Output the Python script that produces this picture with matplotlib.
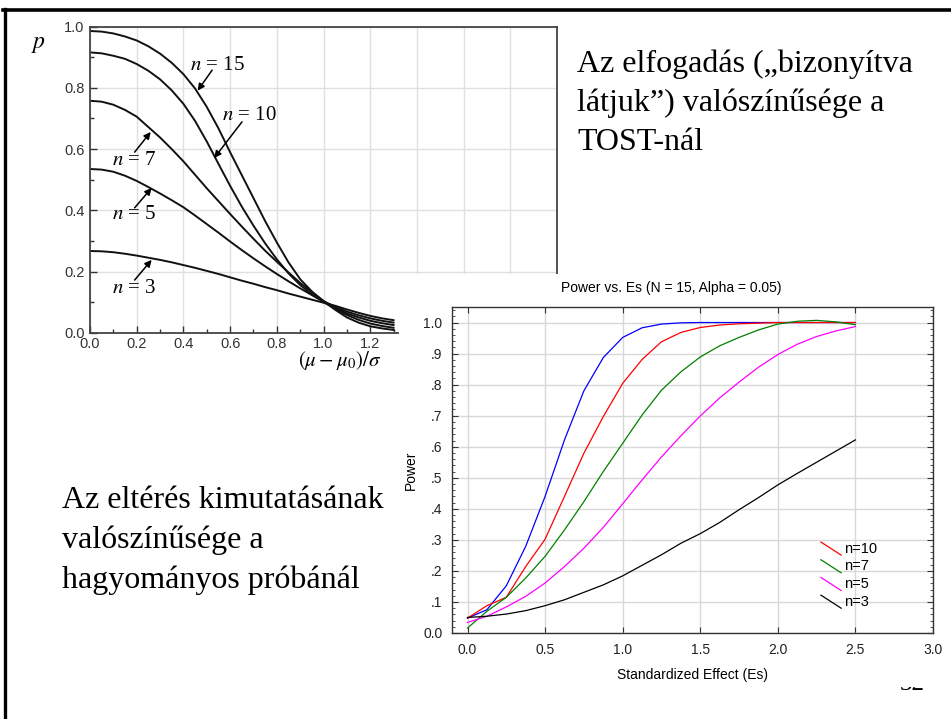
import matplotlib
matplotlib.use('Agg')
import matplotlib.pyplot as plt
from matplotlib.lines import Line2D
from matplotlib.patches import Rectangle
from matplotlib.ticker import MultipleLocator

plt.rcParams['mathtext.fontset'] = 'stix'
plt.rcParams['font.family'] = ['Liberation Sans', 'DejaVu Sans']

# --- left chart: probability of acceptance with TOST ---
p_x = [0.0, 0.05, 0.1, 0.15, 0.2, 0.25, 0.3, 0.35, 0.4, 0.45, 0.5, 0.55, 0.6, 0.65,
       0.7, 0.75, 0.8, 0.85, 0.9, 0.95, 1.0, 1.05, 1.1, 1.15, 1.2, 1.25, 1.3]
p_n15 = [0.986, 0.984, 0.978, 0.968, 0.955, 0.936, 0.912, 0.882, 0.845, 0.798, 0.738,
         0.668, 0.590, 0.515, 0.440, 0.365, 0.295, 0.230, 0.175, 0.135, 0.103, 0.075,
         0.050, 0.033, 0.021, 0.014, 0.009]
p_n10 = [0.916, 0.913, 0.905, 0.895, 0.878, 0.856, 0.828, 0.792, 0.748, 0.692, 0.625,
         0.552, 0.480, 0.412, 0.350, 0.292, 0.240, 0.194, 0.156, 0.125, 0.100, 0.079,
         0.058, 0.042, 0.030, 0.022, 0.016]
p_n7 = [0.758, 0.755, 0.745, 0.728, 0.706, 0.672, 0.638, 0.600, 0.560, 0.516, 0.472,
        0.430, 0.388, 0.347, 0.307, 0.268, 0.232, 0.197, 0.163, 0.132, 0.104, 0.082,
        0.063, 0.050, 0.039, 0.031, 0.025]
p_n5 = [0.535, 0.533, 0.526, 0.513, 0.496, 0.476, 0.455, 0.433, 0.410, 0.383, 0.355,
        0.327, 0.298, 0.270, 0.243, 0.217, 0.192, 0.168, 0.145, 0.123, 0.102, 0.085,
        0.069, 0.057, 0.047, 0.039, 0.033]
p_n3 = [0.267, 0.266, 0.263, 0.258, 0.252, 0.245, 0.238, 0.230, 0.221, 0.212, 0.202,
        0.192, 0.181, 0.170, 0.160, 0.149, 0.139, 0.128, 0.118, 0.108, 0.098, 0.088,
        0.076, 0.065, 0.055, 0.047, 0.041]
p_series = [p_n15, p_n10, p_n7, p_n5, p_n3]
p_names = ['15', '10', '7', '5', '3']
# label centre, arrow tail, arrow tip (data units)
p_label_pos = [(0.545, 0.874), (0.681, 0.711), (0.191, 0.564), (0.191, 0.385), (0.191, 0.146)]
p_arrow_tail = [(0.523, 0.858), (0.651, 0.689), (0.191, 0.590), (0.191, 0.408), (0.191, 0.172)]
p_arrow_tip = [(0.461, 0.791), (0.532, 0.571), (0.260, 0.656), (0.264, 0.473), (0.264, 0.238)]

# --- right chart: power of the classical test ---
es = [0.0, 0.125, 0.25, 0.375, 0.5, 0.625, 0.75, 0.875, 1.0, 1.125, 1.25, 1.375,
      1.5, 1.625, 1.75, 1.875, 2.0, 2.125, 2.25, 2.375, 2.5]
pow_n15 = [0.048, 0.075, 0.152, 0.279, 0.440, 0.622, 0.780, 0.887, 0.952, 0.983, 0.995,
           0.999, 1.0, 1.0, 1.0, 1.0, 1.0, 1.0, 1.0, 1.0, 1.0]
pow_n10 = [0.048, 0.088, 0.115, 0.214, 0.302, 0.440, 0.579, 0.697, 0.804, 0.881, 0.938,
           0.968, 0.984, 0.992, 0.996, 0.998, 1.0, 1.0, 1.0, 1.0, 1.0]
pow_n7 = [0.016, 0.070, 0.115, 0.177, 0.247, 0.332, 0.423, 0.520, 0.611, 0.702, 0.782,
          0.841, 0.889, 0.925, 0.952, 0.976, 0.995, 1.004, 1.007, 1.002, 0.993]
pow_n5 = [0.034, 0.054, 0.084, 0.118, 0.161, 0.214, 0.273, 0.340, 0.416, 0.493, 0.567,
          0.635, 0.699, 0.757, 0.808, 0.856, 0.897, 0.930, 0.955, 0.973, 0.987]
pow_n3 = [0.050, 0.054, 0.061, 0.072, 0.088, 0.107, 0.131, 0.155, 0.184, 0.218, 0.252,
          0.289, 0.320, 0.356, 0.397, 0.436, 0.477, 0.514, 0.550, 0.586, 0.622]
pow_series = [pow_n15, pow_n10, pow_n7, pow_n5, pow_n3]
pow_colors = ['#0000ff', '#ff0000', '#008000', '#ff00ff', '#000000']
legend_names = ['n=10', 'n=7', 'n=5', 'n=3']
legend_colors = ['#ff0000', '#008000', '#ff00ff', '#000000']
y_ticklabels = ['0.0', '.1', '.2', '.3', '.4', '.5', '.6', '.7', '.8', '.9', '1.0']

top_lines = ['Az elfogadás („bizonyítva', 'látjuk”) valószínűsége a', 'TOST-nál']
bottom_lines = ['Az eltérés kimutatásának', 'valószínűsége a', 'hagyományos próbánál']

W, H = 951, 719
fig = plt.figure(figsize=(W / 100, H / 100), dpi=100)


def fx(px):
    return px / W


def fy(py):
    return 1 - py / H


serif = ['Liberation Serif', 'DejaVu Serif']

# slide border
fig.add_artist(Line2D([fx(3), 1], [fy(9.5), fy(9.5)], color='black', lw=2.6, zorder=10))
fig.add_artist(Line2D([fx(4.5), fx(4.5)], [fy(8.5), 0], color='black', lw=2.4, zorder=10))

# left axes
ax1 = fig.add_axes([fx(90), fy(332.7), fx(557) - fx(90), fy(26.7) - fy(332.7)], zorder=1)
for ys in p_series:
    ax1.plot(p_x, ys, color='#111111', lw=1.4)
ax1.set_xlim(0, 2.0)
ax1.set_ylim(0, 1.0)
ax1.xaxis.set_major_locator(MultipleLocator(0.2))
ax1.xaxis.set_minor_locator(MultipleLocator(0.1))
ax1.yaxis.set_major_locator(MultipleLocator(0.2))
ax1.yaxis.set_minor_locator(MultipleLocator(0.1))
ax1.grid(True, which='major', color='#e0e0e0', lw=1.0)
ax1.set_axisbelow(True)
ax1.tick_params(which='major', direction='in', length=5, width=1, color='#333333',
                labelsize=10.5, labelcolor='#333333', pad=4)
ax1.tick_params(axis='x', which='major', pad=3)
ax1.tick_params(which='minor', direction='in', length=3, width=1, color='#333333')
ax1.set_xticklabels([f'{v:.1f}' for v in ax1.get_xticks()])
ax1.set_yticklabels([f'{v:.1f}' for v in ax1.get_yticks()])
for sp in ax1.spines.values():
    sp.set_color('#444444')
    sp.set_linewidth(1.3)
for name, lp, tail, tip in zip(p_names, p_label_pos, p_arrow_tail, p_arrow_tip):
    ax1.text(lp[0], lp[1], r'$n$ = ' + name, fontsize=15, family=serif,
             ha='center', va='center')
    ax1.annotate('', xy=tip, xytext=tail,
                 arrowprops=dict(arrowstyle='-|>', color='black', lw=1.1,
                                 mutation_scale=10, shrinkA=0, shrinkB=0))

fig.text(fx(38), fy(44), r'$p$', fontsize=17, ha='center', va='center', zorder=2)
fig.text(fx(340), fy(361), r'$(\mu - \mu_0)/\sigma$', fontsize=15,
         ha='center', va='center', zorder=2)

# slide texts, one baseline per line
for line, base in zip(top_lines, [72, 111, 150]):
    fig.text(fx(577), fy(base), line, fontsize=23, family=serif,
             ha='left', va='baseline', zorder=2)
for line, base in zip(bottom_lines, [508, 548, 588]):
    fig.text(fx(62.5), fy(base), line, fontsize=23, family=serif,
             ha='left', va='baseline', zorder=2)

# slide number, mostly hidden by the pasted chart
fig.text(fx(912), fy(690), '32', fontsize=18, family=serif, ha='center', va='baseline', zorder=4)

# pasted chart background
fig.add_artist(Rectangle((fx(399), fy(687)), 1 - fx(399), fy(274) - fy(687),
                         transform=fig.transFigure, facecolor='white', edgecolor='none', zorder=5))

# right axes
ax2 = fig.add_axes([fx(452), fy(633), fx(933) - fx(452), fy(307) - fy(633)], zorder=6)
for ys, c in zip(pow_series, pow_colors):
    ax2.plot(es, ys, color=c, lw=0.9)
ax2.set_xlim(-0.1, 3.0)
ax2.set_ylim(0, 1.05)
ax2.set_xticks([0.0, 0.5, 1.0, 1.5, 2.0, 2.5, 3.0])
ax2.set_xticklabels(['0.0', '0.5', '1.0', '1.5', '2.0', '2.5', '3.0'])
ax2.set_yticks([i / 10 for i in range(11)])
ax2.set_yticklabels(y_ticklabels)
ax2.yaxis.set_minor_locator(MultipleLocator(0.02))
ax2.grid(True, which='major', color='#d8d8d8', lw=1.0)
ax2.set_axisbelow(True)
ax2.tick_params(which='major', direction='in', length=4, width=0.8, color='#333333',
                top=True, right=True, labelsize=10, labelcolor='#222222', pad=7)
ax2.tick_params(which='minor', direction='in', length=2, width=0.6, color='#333333',
                left=True, right=True)
for sp in ax2.spines.values():
    sp.set_color('#333333')
    sp.set_linewidth(1.0)
ax2.set_xlabel('Standardized Effect (Es)', fontsize=10, labelpad=8)
ax2.set_ylabel('Power', fontsize=10, labelpad=4)
fig.text(fx(671), fy(288), 'Power vs. Es (N = 15, Alpha = 0.05)', fontsize=10,
         ha='center', va='center', zorder=7)

# legend with slanted line keys
for i, (name, c) in enumerate(zip(legend_names, legend_colors)):
    y0 = 0.279 - i * 0.0543
    ax2.add_line(Line2D([0.767, 0.809], [y0, y0 - 0.040], color=c, lw=0.9,
                        transform=ax2.transAxes))
    ax2.text(0.815, y0 - 0.020, name, fontsize=10.5, transform=ax2.transAxes,
             ha='left', va='center')

fig.savefig('out.png', dpi=100)
